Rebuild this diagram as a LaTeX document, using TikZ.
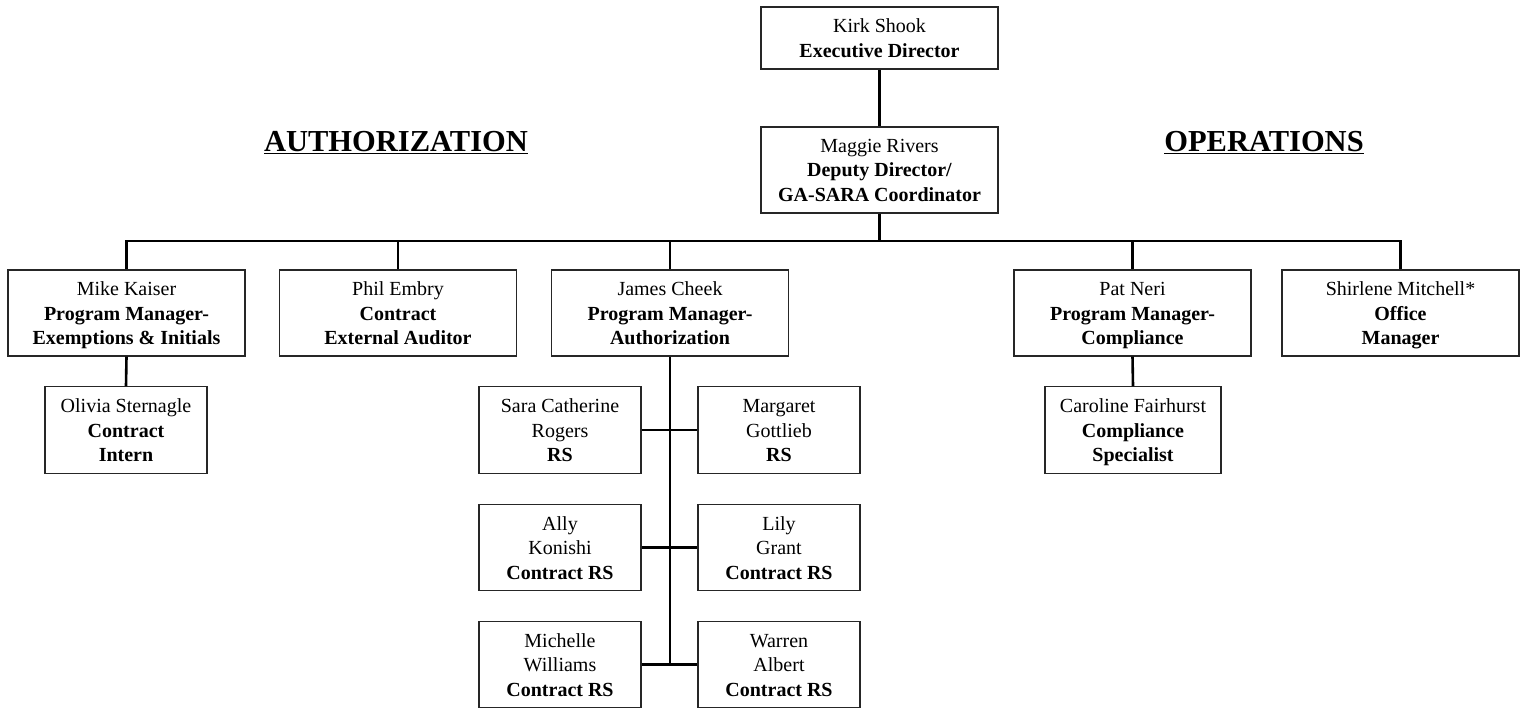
\documentclass[tikz,border=0pt]{standalone}
\usepackage{fontspec}
\setmainfont{Liberation Serif}
\newcommand\lnst{\rule[-5.25pt]{0pt}{24.5pt}}
\begin{document}
\begin{tikzpicture}[x=1pt,y=-1pt,
  box/.style={draw=black!85, line width=1.4pt, align=center, inner sep=0pt,
    font=\fontsize{20}{24.5}\selectfont},
  wide/.style={box, minimum width=237pt, minimum height=86pt},
  narrow/.style={box, minimum width=162pt, minimum height=86.5pt},
  conn/.style={line width=2.6pt, black},
  title/.style={font=\fontsize{30.5}{34}\selectfont\bfseries, inner sep=0pt}]
\useasboundingbox (0,0) rectangle (1525,708);
\node[box, minimum width=237pt, minimum height=62pt] (kirk) at (879.5,38) {\lnst Kirk Shook\\\lnst\textbf{Executive Director}};
\node[wide] (maggie) at (879.5,170) {\lnst Maggie Rivers\\\lnst\textbf{Deputy Director/}\\\lnst\textbf{GA-SARA Coordinator}};
\node[title] (auth) at (396,143) {\underline{AUTHORIZATION}};
\node[title] (ops) at (1264,143) {\underline{OPERATIONS}};
\node[wide] (mike) at (126.5,313) {\lnst Mike Kaiser\\\lnst\textbf{Program Manager-}\\\lnst\textbf{Exemptions \& Initials}};
\node[wide] (phil) at (398,313) {\lnst Phil Embry\\\lnst\textbf{Contract}\\\lnst\textbf{External Auditor}};
\node[wide] (james) at (670,313) {\lnst James Cheek\\\lnst\textbf{Program Manager-}\\\lnst\textbf{Authorization}};
\node[wide] (pat) at (1132.5,313) {\lnst Pat Neri\\\lnst\textbf{Program Manager-}\\\lnst\textbf{Compliance}};
\node[wide] (shirlene) at (1400.5,313) {\lnst Shirlene Mitchell*\\\lnst\textbf{Office}\\\lnst\textbf{Manager}};
\node[narrow] (olivia) at (126,430) {\lnst Olivia Sternagle\\\lnst\textbf{Contract}\\\lnst\textbf{Intern}};
\node[narrow] (sara) at (560,430) {\lnst Sara Catherine\\\lnst Rogers\\\lnst\textbf{RS}};
\node[narrow] (margaret) at (779,430) {\lnst Margaret\\\lnst Gottlieb\\\lnst\textbf{RS}};
\node[narrow] (ally) at (560,547.5) {\lnst Ally\\\lnst Konishi\\\lnst\textbf{Contract RS}};
\node[narrow] (lily) at (779,547.5) {\lnst Lily\\\lnst Grant\\\lnst\textbf{Contract RS}};
\node[narrow] (michelle) at (560,664.5) {\lnst Michelle\\\lnst Williams\\\lnst\textbf{Contract RS}};
\node[narrow] (warren) at (779,664.5) {\lnst Warren\\\lnst Albert\\\lnst\textbf{Contract RS}};
\node[narrow, minimum width=176pt] (caroline) at (1133,430) {\lnst Caroline Fairhurst\\\lnst\textbf{Compliance}\\\lnst\textbf{Specialist}};
\coordinate (bus) at (0,241);
\coordinate (jend) at (0,665);
\draw[conn] (kirk.south) -- (maggie.north);
\draw[conn] (maggie.south) -- (maggie.south |- bus);
\draw[conn] (mike.north) -- (mike.north |- bus) -- (shirlene.north |- bus) -- (shirlene.north);
\draw[conn] (phil.north) -- (phil.north |- bus);
\draw[conn] (james.north) -- (james.north |- bus);
\draw[conn] (pat.north) -- (pat.north |- bus);
\draw[conn] (mike.south) -- (olivia.north);
\draw[conn] (pat.south) -- (caroline.north);
\draw[conn] (james.south) -- (james.south |- jend);
\draw[conn] (sara.east) -- (margaret.west);
\draw[conn] (ally.east) -- (lily.west);
\draw[conn] (michelle.east) -- (warren.west);
\end{tikzpicture}
\end{document}
